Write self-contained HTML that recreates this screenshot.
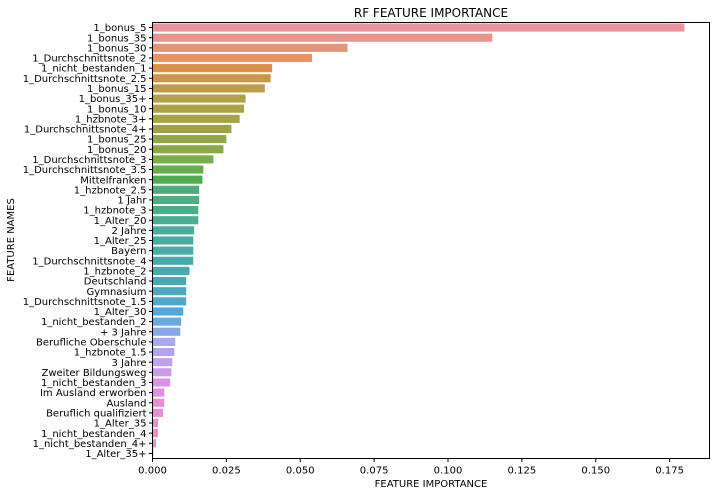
<!DOCTYPE html>
<html><head><meta charset="utf-8"><style>
html,body{margin:0;padding:0;background:#fff;}
svg{display:block;font-family:"DejaVu Sans","Liberation Sans",sans-serif;}
</style></head><body>
<svg id="chart" width="717" height="496">
<text x="431" y="17" text-anchor="middle" font-size="12" fill="#000">RF FEATURE IMPORTANCE</text>
<text x="431" y="487" text-anchor="middle" font-size="10" fill="#000">FEATURE IMPORTANCE</text>
<text transform="translate(14,240) rotate(-90)" text-anchor="middle" font-size="10" fill="#000">FEATURE NAMES</text>
<g id="bars"></g>
<g id="yticks"></g>
<g id="xticks"></g>
<rect x="152.5" y="22.5" width="557" height="436" fill="none" stroke="#000" stroke-width="1"/>
</svg>
<script>
const features = ["1_bonus_5","1_bonus_35","1_bonus_30","1_Durchschnittsnote_2","1_nicht_bestanden_1","1_Durchschnittsnote_2.5","1_bonus_15","1_bonus_35+","1_bonus_10","1_hzbnote_3+","1_Durchschnittsnote_4+","1_bonus_25","1_bonus_20","1_Durchschnittsnote_3","1_Durchschnittsnote_3.5","Mittelfranken","1_hzbnote_2.5","1 Jahr","1_hzbnote_3","1_Alter_20","2 Jahre","1_Alter_25","Bayern","1_Durchschnittsnote_4","1_hzbnote_2","Deutschland","Gymnasium","1_Durchschnittsnote_1.5","1_Alter_30","1_nicht_bestanden_2","+ 3 Jahre","Berufliche Oberschule","1_hzbnote_1.5","3 Jahre","Zweiter Bildungsweg","1_nicht_bestanden_3","Im Ausland erworben","Ausland","Beruflich qualifiziert","1_Alter_35","1_nicht_bestanden_4","1_nicht_bestanden_4+","1_Alter_35+"];
const importance = [0.180,0.115,0.066,0.054,0.0405,0.040,0.038,0.0315,0.031,0.0295,0.0267,0.025,0.024,0.0206,0.0172,0.0169,0.0158,0.0158,0.0155,0.0155,0.0141,0.0138,0.0138,0.0138,0.0125,0.0114,0.0114,0.0114,0.0104,0.0097,0.0094,0.0077,0.0074,0.0067,0.0064,0.006,0.004,0.004,0.0036,0.0019,0.0019,0.0012,0.0003];
const xTicks = [0,0.025,0.05,0.075,0.1,0.125,0.15,0.175];
const xTickLabels = ["0.000","0.025","0.050","0.075","0.100","0.125","0.150","0.175"];

const X0=152.5, PX=2955, Y0=22.5, H=436;
const n = features.length, step = H/n;
function xs(v){return X0+v*PX;}
function yc(i){return Y0+step*(i+0.5);}
const keys=[[0,[233,148,157]],[3,[228,148,103]],[4,[220,143,69]],[7,[176,160,74]],[10,[160,163,69]],[13,[122,173,72]],[15,[76,175,75]],[16,[76,175,122]],[20,[74,172,155]],[25,[74,168,181]],[28,[82,168,216]],[30,[135,168,230]],[31,[168,168,236]],[33,[192,160,234]],[35,[216,148,226]],[38,[232,142,212]],[41,[232,147,196]],[42,[232,160,176]]];
function color(i){
  for(let k=0;k<keys.length-1;k++){
    const [a,ca]=keys[k],[b,cb]=keys[k+1];
    if(i>=a&&i<=b){const t=(i-a)/(b-a||1);return 'rgb('+ca.map((c,j)=>Math.round(c+(cb[j]-c)*t)).join(',')+')';}
  }
  return 'rgb(232,160,176)';
}
const NS="http://www.w3.org/2000/svg";
const bars=document.getElementById('bars'), yt=document.getElementById('yticks'), xt=document.getElementById('xticks');
features.forEach((f,i)=>{
  const bh=step*0.8;
  const r=document.createElementNS(NS,'rect');
  r.setAttribute('x',X0);r.setAttribute('y',yc(i)-bh/2);
  r.setAttribute('width',Math.max(0,xs(importance[i])-X0));r.setAttribute('height',bh);
  r.setAttribute('fill',color(i));
  
  
  bars.appendChild(r);
  const l=document.createElementNS(NS,'line');
  l.setAttribute('x1',X0-3.5);l.setAttribute('x2',X0);l.setAttribute('y1',yc(i));l.setAttribute('y2',yc(i));l.setAttribute('stroke','#000');
  
  
  yt.appendChild(l);
  const t=document.createElementNS(NS,'text');
  t.setAttribute('x',X0-6);t.setAttribute('y',yc(i)+3.6);t.setAttribute('text-anchor','end');t.setAttribute('font-size','10');
  t.textContent=f;
  
  
  yt.appendChild(t);
});
xTicks.forEach((v,i)=>{
  const l=document.createElementNS(NS,'line');
  l.setAttribute('x1',xs(v));l.setAttribute('x2',xs(v));l.setAttribute('y1',Y0+H);l.setAttribute('y2',Y0+H+3.5);l.setAttribute('stroke','#000');
  
  
  xt.appendChild(l);
  const t=document.createElementNS(NS,'text');
  t.setAttribute('x',xs(v));t.setAttribute('y',Y0+H+15);t.setAttribute('text-anchor','middle');t.setAttribute('font-size','10');
  t.textContent=xTickLabels[i];
  
  
  xt.appendChild(t);
});
</script>
</body></html>
